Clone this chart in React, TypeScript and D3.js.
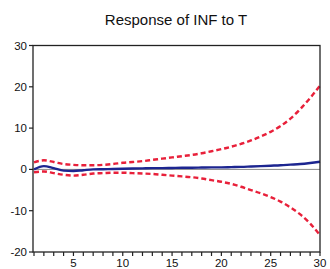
import React from "react";
import * as d3 from "d3";

const periods = d3.range(1, 31);
const response = [0, 0.8, 0.3, -0.3, -0.4, -0.2, 0, 0.05, 0.1, 0.15, 0.2, 0.25, 0.3, 0.3, 0.35, 0.4, 0.4, 0.45, 0.5, 0.5, 0.55, 0.6, 0.7, 0.8, 0.9, 1.0, 1.15, 1.3, 1.55, 1.85];
const upperBand = [1.7, 2.2, 1.8, 1.3, 1.1, 1.0, 1.0, 1.1, 1.3, 1.6, 1.8, 2.0, 2.3, 2.6, 2.9, 3.2, 3.5, 3.9, 4.4, 4.9, 5.5, 6.2, 7.0, 8.0, 9.1, 10.5, 12.3, 14.6, 17.3, 20.3];
const lowerBand = [-0.7, -0.5, -0.9, -1.3, -1.5, -1.3, -1.0, -0.9, -0.8, -0.8, -0.9, -1.0, -1.1, -1.3, -1.5, -1.7, -1.9, -2.2, -2.6, -3.0, -3.5, -4.2, -5.0, -5.8, -6.7, -7.8, -9.2, -10.9, -13.1, -15.9];
const yTicks = [30, 20, 10, 0, -10, -20];
const xLabelTicks = [5, 10, 15, 20, 25, 30];
const title = "Response of INF to T";

export default function App() {
  const W = 330, H = 269;
  const left = 33, right = 320, top = 45.5, bottom = 252;
  const x = d3.scaleLinear().domain([1, 30]).range([34, 320]);
  const y = d3.scaleLinear().domain([-20, 30]).range([bottom, top]);
  const line = (vals: number[]) =>
    d3.line<number>().x((_, i) => x(periods[i])).y((d) => y(d)).curve(d3.curveMonotoneX)(vals) || "";
  const font = "Arial, 'Liberation Sans', sans-serif";
  return (
    <svg width={W} height={H} style={{ position: "absolute", left: 0, top: 0, background: "#fff" }}>
      <text x={176} y={25} textAnchor="middle" fontFamily={font} fontSize={15} fill="#111">{title}</text>
      {/* zero line */}
      <line x1={left} x2={right} y1={y(0)} y2={y(0)} stroke="#888" strokeWidth={1} />
      {/* bands */}
      <path d={line(upperBand)} fill="none" stroke="#e8203a" strokeWidth={2.4} strokeDasharray="5,3" />
      <path d={line(lowerBand)} fill="none" stroke="#e8203a" strokeWidth={2.4} strokeDasharray="5,3" />
      <path d={line(response)} fill="none" stroke="#1c2590" strokeWidth={2.4} />
      {/* frame */}
      <rect x={left} y={top} width={right - left} height={bottom - top} fill="none" stroke="#222" strokeWidth={1.3} />
      {/* y ticks */}
      {yTicks.map((t) => (
        <g key={t}>
          <line x1={left - 4} x2={left} y1={y(t)} y2={y(t)} stroke="#222" strokeWidth={1.2} />
          <text x={left - 6} y={y(t) + 4} textAnchor="end" fontFamily={font} fontSize={11.5} fill="#111">{t}</text>
        </g>
      ))}
      {/* x ticks */}
      {periods.map((p) => (
        <line key={p} x1={x(p)} x2={x(p)} y1={bottom} y2={bottom + 4} stroke="#222" strokeWidth={1.2} />
      ))}
      {xLabelTicks.map((p) => (
        <text key={p} x={x(p)} y={bottom + 15} textAnchor="middle" fontFamily={font} fontSize={11.5} fill="#111">{p}</text>
      ))}
    </svg>
  );
}
